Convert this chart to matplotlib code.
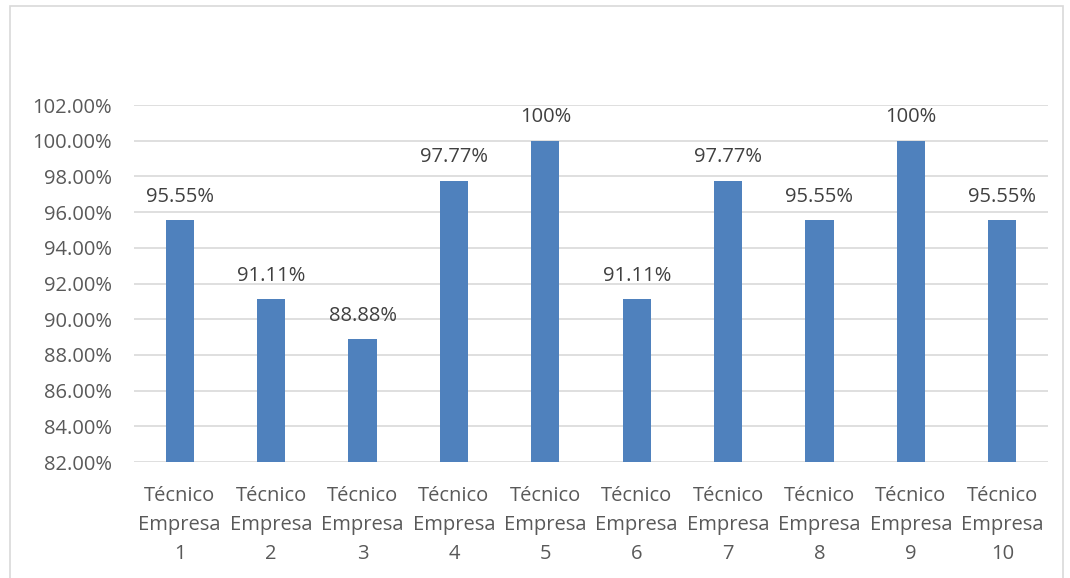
import matplotlib.pyplot as plt
from matplotlib.patches import Rectangle
from matplotlib.ticker import FuncFormatter

categories = ['Técnico\nEmpresa\n%d' % i for i in range(1, 11)]
values = [95.55, 91.11, 88.88, 97.77, 100, 91.11, 97.77, 95.55, 100, 95.55]
value_labels = ['95.55%', '91.11%', '88.88%', '97.77%', '100%',
                '91.11%', '97.77%', '95.55%', '100%', '95.55%']

plt.rcParams['font.family'] = ['Open Sans', 'DejaVu Sans']
text_color = '#595959'

fig = plt.figure(figsize=(10.7, 5.78), dpi=100)
ax = fig.add_axes([134 / 1070, 1 - 462 / 578, (1048 - 134) / 1070, (462 - 105) / 578])

x = range(len(values))
ax.bar(x, values, width=0.31, color='#4F81BD', zorder=3)
for xi, v, lab in zip(x, values, value_labels):
    ax.text(xi, v + 0.75, lab, ha='center', va='bottom', fontsize=14.5, color='#404040')

ax.set_ylim(82, 102)
ax.set_xlim(-0.5, 9.5)
ax.set_yticks(range(82, 103, 2))
ax.yaxis.set_major_formatter(FuncFormatter(lambda v, p: '%.2f%%' % v))
ax.set_xticks(list(x))
ax.set_xticklabels(categories, linespacing=1.6)
ax.grid(axis='y', color='#D9D9D9', linewidth=1.2, zorder=0)
for s in ax.spines.values():
    s.set_visible(False)
ax.tick_params(axis='both', length=0, colors=text_color, labelsize=14.5)
ax.tick_params(axis='y', pad=16)
ax.tick_params(axis='x', pad=17)

# outer chart border
fig.patches.append(Rectangle((10 / 1070, -0.05), (1063 - 10) / 1070, 1.05 - 6 / 578,
                             transform=fig.transFigure, fill=False,
                             edgecolor='#D9D9D9', linewidth=1.2))

fig.savefig('out.png', dpi=100)
